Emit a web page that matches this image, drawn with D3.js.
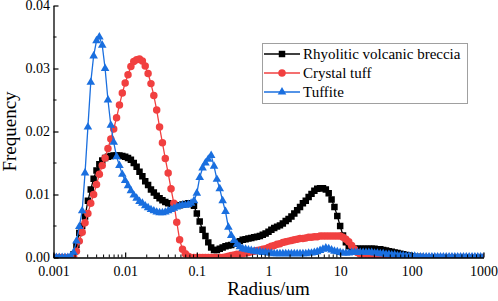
<!DOCTYPE html>
<html lang="en">
<head>
    <meta charset="UTF-8">
    <title></title>
    <style type="text/css">
        html, body { padding:0; margin:0; background:#fff; }
    </style>
</head>
<body>
<script src="https://d3js.org/d3.v7.min.js"></script>
<script>
    // radius grid: 25 points per decade, 0.001 .. 1000 um
    var mantissa = [1, 1.096, 1.202, 1.318, 1.445, 1.585, 1.738, 1.905, 2.089, 2.291,
                    2.512, 2.754, 3.020, 3.311, 3.631, 3.981, 4.365, 4.786, 5.248, 5.754,
                    6.310, 6.918, 7.586, 8.318, 9.120];
    var decades = [0.001, 0.01, 0.1, 1, 10, 100];
    var radius = decades.flatMap(function(d) {
        return mantissa.map(function(m) { return +(d * m).toPrecision(4); });
    }).concat([1000]);

    var breccia = [
        0, 0, 0, 0, 0, 0, 0, 0.0005, 0.0020, 0.0039,
        0.0050, 0.0065, 0.0090, 0.0108, 0.0125, 0.0138, 0.0148, 0.0154, 0.0158, 0.0160,
        0.0161, 0.0162, 0.0162, 0.0162, 0.0161, 0.0160, 0.0158, 0.0155, 0.0150, 0.0144,
        0.0136, 0.0129, 0.0121, 0.0115, 0.0108, 0.0103, 0.0098, 0.0094, 0.0091, 0.0088,
        0.0086, 0.0085, 0.0084, 0.0083, 0.0083, 0.0084, 0.0085, 0.0086, 0.0085, 0.0082,
        0.0070, 0.0057, 0.0044, 0.0034, 0.0024, 0.0016, 0.0012, 0.0012, 0.0014, 0.0016,
        0.0018, 0.0019, 0.0020, 0.0022, 0.0024, 0.0026, 0.0028, 0.0029, 0.0030, 0.0031,
        0.0032, 0.0033, 0.0034, 0.0036, 0.0038, 0.0041, 0.0044, 0.0047, 0.0049, 0.0051,
        0.0054, 0.0058, 0.0061, 0.0065, 0.0070, 0.0075, 0.0080, 0.0086, 0.0090, 0.0096,
        0.0101, 0.0106, 0.0109, 0.0110, 0.0110, 0.0108, 0.0102, 0.0092, 0.0080, 0.0066,
        0.0050, 0.0035, 0.0024, 0.0018, 0.0015, 0.0014, 0.0014, 0.0014, 0.0014, 0.0014,
        0.0014, 0.0014, 0.0014, 0.0013, 0.0013, 0.0012, 0.0011, 0.0010, 0.0009, 0.0008,
        0.0007, 0.0006, 0.0005, 0.0004, 0.0003, 0.0002, 0.0001, 0.0001, 0.0001, 0,
        0, 0, 0, 0, 0, 0, 0, 0, 0, 0,
        0, 0, 0, 0, 0, 0, 0, 0, 0, 0,
        0
    ];

    var crystal = [
        0, 0, 0, 0, 0, 0, 0, 0.0002, 0.0010, 0.0026,
        0.0040, 0.0055, 0.0070, 0.0086, 0.0100, 0.0116, 0.0132, 0.0146, 0.0158, 0.0173,
        0.0188, 0.0204, 0.0222, 0.0242, 0.0261, 0.0277, 0.0290, 0.0303, 0.0311, 0.0314,
        0.0315, 0.0312, 0.0304, 0.0292, 0.0276, 0.0257, 0.0234, 0.0207, 0.0182, 0.0157,
        0.0134, 0.0109, 0.0086, 0.0056, 0.0028, 0.0013, 0.0006, 0.0002, 0, 0,
        0, 0, 0, 0, 0, 0, 0, 0, 0, 0,
        0.0001, 0.0002, 0.0003, 0.0004, 0.0005, 0.0005, 0.0006, 0.0007, 0.0008, 0.0009,
        0.0010, 0.0011, 0.0012, 0.0013, 0.0014, 0.0016, 0.0018, 0.0019, 0.0021, 0.0022,
        0.0024, 0.0025, 0.0026, 0.0027, 0.0028, 0.0029, 0.0030, 0.0030, 0.0031, 0.0032,
        0.0032, 0.0033, 0.0033, 0.0034, 0.0034, 0.0034, 0.0034, 0.0034, 0.0034, 0.0034,
        0.0034, 0.0032, 0.0029, 0.0025, 0.0019, 0.0013, 0.0008, 0.0005, 0.0003, 0.0002,
        0.0001, 0, 0, 0, 0, 0, 0, 0, 0, 0,
        0, 0, 0, 0, 0, 0, 0, 0, 0, 0,
        0, 0, 0, 0, 0, 0, 0, 0, 0, 0,
        0, 0, 0, 0, 0, 0, 0, 0, 0, 0,
        0
    ];

    var tuffite = [
        0, 0, 0, 0, 0, 0, 0.0002, 0.0008, 0.0026, 0.0049,
        0.0074, 0.0134, 0.0207, 0.0278, 0.0320, 0.0344, 0.0350, 0.0337, 0.0300, 0.0250,
        0.0210, 0.0183, 0.0160, 0.0146, 0.0132, 0.0122, 0.0114, 0.0106, 0.0099, 0.0094,
        0.0089, 0.0086, 0.0082, 0.0079, 0.0076, 0.0074, 0.0072, 0.0071, 0.0071, 0.0072,
        0.0074, 0.0076, 0.0078, 0.0080, 0.0082, 0.0083, 0.0083, 0.0084, 0.0086, 0.0090,
        0.0102, 0.0127, 0.0142, 0.0150, 0.0156, 0.0162, 0.0145, 0.0124, 0.0109, 0.0090,
        0.0073, 0.0048, 0.0035, 0.0027, 0.0021, 0.0017, 0.0014, 0.0013, 0.0012, 0.0011,
        0.0010, 0.0009, 0.0009, 0.0008, 0.0008, 0.0007, 0.0007, 0.0006, 0.0006, 0.0006,
        0.0006, 0.0006, 0.0006, 0.0006, 0.0006, 0.0006, 0.0006, 0.0006, 0.0006, 0.0007,
        0.0007, 0.0008, 0.0009, 0.0011, 0.0013, 0.0015, 0.0014, 0.0012, 0.0010, 0.0009,
        0.0008, 0.0007, 0.0007, 0.0007, 0.0008, 0.0008, 0.0008, 0.0008, 0.0008, 0.0008,
        0.0008, 0.0008, 0.0007, 0.0007, 0.0006, 0.0006, 0.0005, 0.0005, 0.0004, 0.0004,
        0.0003, 0.0003, 0.0003, 0.0002, 0.0002, 0.0002, 0.0002, 0.0001, 0.0001, 0.0001,
        0.0001, 0.0001, 0.0001, 0.0001, 0.0001, 0.0001, 0.0001, 0.0001, 0.0001, 0.0001,
        0.0001, 0.0001, 0.0001, 0.0001, 0.0001, 0.0001, 0.0001, 0.0001, 0.0001, 0.0001,
        0.0001
    ];

    var seriesNames = ['Rhyolitic volcanic breccia', 'Crystal tuff', 'Tuffite'];
    var xTicks = [0.001, 0.01, 0.1, 1, 10, 100, 1000];
    var xTickLabels = ['0.001', '0.01', '0.1', '1', '10', '100', '1000'];
    var yTicks = [0, 0.01, 0.02, 0.03, 0.04];
    var yTickLabels = ['0.00', '0.01', '0.02', '0.03', '0.04'];

    var fontFamily = 'Liberation Serif';

    var width = 498,
        height = 301,
        margin = {left: 53.5, top: 5.5, right: 14.5, bottom: 43.5};

    var svg = d3.select('body').append('svg')
                .attr('width', width)
                .attr('height', height)
                .attr('font-family', fontFamily);

    var scaleX = d3.scaleLog().domain([0.001, 1000])
                   .range([margin.left, width - margin.right]),
        scaleY = d3.scaleLinear().domain([0, 0.04])
                   .range([height - margin.bottom, margin.top]);

    var styles = [
        {color: '#000000', symbol: d3.symbolSquare, size: 42},
        {color: '#F14040', symbol: d3.symbolCircle, size: 44},
        {color: '#1A6FDF', symbol: d3.symbolTriangle, size: 32}
    ];
    var allSeries = [breccia, crystal, tuffite];

    svg.append('clipPath').attr('id', 'plotClip')
       .append('rect')
       .attr('x', scaleX.range()[0]).attr('y', scaleY.range()[1])
       .attr('width', scaleX.range()[1] - scaleX.range()[0])
       .attr('height', scaleY.range()[0] - scaleY.range()[1]);

    var line = d3.line()
                 .x(function(d) { return scaleX(d[0]); })
                 .y(function(d) { return scaleY(d[1]); });

    var plot = svg.append('g').attr('clip-path', 'url(#plotClip)');

    allSeries.forEach(function(values, i) {
        var pts = radius.map(function(r, j) { return [r, values[j]]; });
        var g = plot.append('g');
        g.append('path')
         .attr('d', line(pts))
         .attr('fill', 'none')
         .attr('stroke', styles[i].color)
         .attr('stroke-width', 1.3);
        g.selectAll('path.pt')
         .data(pts)
         .enter()
         .append('path')
         .attr('class', 'pt')
         .attr('d', d3.symbol().type(styles[i].symbol).size(styles[i].size))
         .attr('transform', function(d) {
             return 'translate(' + scaleX(d[0]) + ',' + scaleY(d[1]) + ')';
         })
         .attr('fill', styles[i].color);
    });

    // axes (ticks pointing inward)
    var axisX = d3.axisBottom(scaleX)
                  .tickValues(xTicks)
                  .tickFormat(function(d, i) { return xTickLabels[i]; })
                  .tickSizeInner(-5).tickSizeOuter(0).tickPadding(9);
    var axisY = d3.axisLeft(scaleY)
                  .tickValues(yTicks)
                  .tickFormat(function(d, i) { return yTickLabels[i]; })
                  .tickSizeInner(-5).tickSizeOuter(0).tickPadding(3.5);

    var gx = svg.append('g')
       .attr('transform', 'translate(0,' + scaleY.range()[0] + ')')
       .call(axisX);
    var gy = svg.append('g')
       .attr('transform', 'translate(' + scaleX.range()[0] + ',0)')
       .call(axisY);

    [gx, gy].forEach(function(g) {
        g.attr('font-family', fontFamily).attr('font-size', 14);
        g.selectAll('text').attr('fill', '#000');
        g.select('.domain').attr('stroke-width', 1.3);
        g.selectAll('.tick line').attr('stroke-width', 1.2);
    });

    // minor ticks
    var xMinor = [];
    decades.forEach(function(d) {
        for (var m = 2; m <= 9; m++) xMinor.push(d * m);
    });
    svg.append('g').selectAll('line')
       .data(xMinor).enter().append('line')
       .attr('x1', function(d) { return scaleX(d); })
       .attr('x2', function(d) { return scaleX(d); })
       .attr('y1', scaleY(0)).attr('y2', scaleY(0) - 3)
       .attr('stroke', '#000').attr('stroke-width', 1);

    var yMinor = [0.005, 0.015, 0.025, 0.035];
    svg.append('g').selectAll('line')
       .data(yMinor).enter().append('line')
       .attr('y1', function(d) { return scaleY(d); })
       .attr('y2', function(d) { return scaleY(d); })
       .attr('x1', scaleX(0.001)).attr('x2', scaleX(0.001) + 3)
       .attr('stroke', '#000').attr('stroke-width', 1);

    // axis titles
    svg.append('text')
       .attr('x', (scaleX.range()[0] + scaleX.range()[1]) / 2)
       .attr('y', 295)
       .attr('text-anchor', 'middle')
       .attr('font-size', 19)
       .text('Radius/um');

    svg.append('text')
       .attr('transform', 'translate(16,' + (scaleY.range()[0] + scaleY.range()[1]) / 2 + ') rotate(-90)')
       .attr('text-anchor', 'middle')
       .attr('font-size', 19)
       .text('Frequency');

    // legend
    var legend = svg.append('g');
    legend.append('rect')
          .attr('x', 262.5).attr('y', 43.5)
          .attr('width', 205).attr('height', 60)
          .attr('fill', '#fff')
          .attr('stroke', '#a0a0a0').attr('stroke-width', 1);

    seriesNames.forEach(function(name, i) {
        var cy = 54 + i * 19;
        legend.append('line')
              .attr('x1', 264).attr('x2', 300)
              .attr('y1', cy).attr('y2', cy)
              .attr('stroke', styles[i].color).attr('stroke-width', 1.3);
        legend.append('path')
              .attr('d', d3.symbol().type(styles[i].symbol).size(styles[i].size))
              .attr('transform', 'translate(282,' + cy + ')')
              .attr('fill', styles[i].color);
        legend.append('text')
              .attr('x', 303).attr('y', cy)
              .attr('dy', '0.33em')
              .attr('font-size', 15)
              .text(name);
    });
</script>
</body>
</html>
